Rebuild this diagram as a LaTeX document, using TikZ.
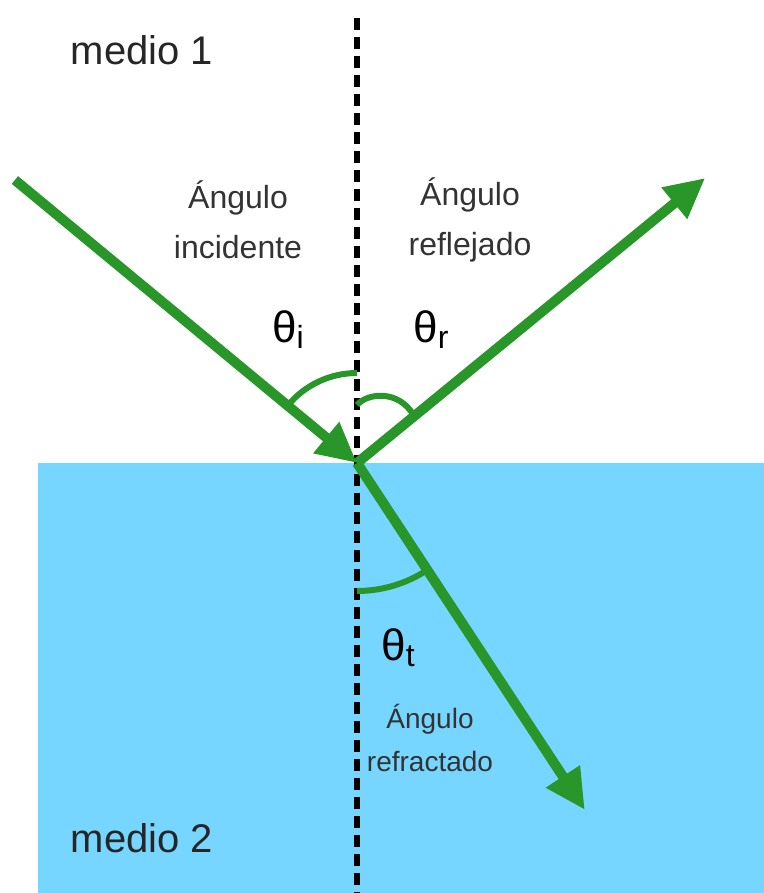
\documentclass[tikz,border=0pt]{standalone}
\usepackage{fontspec}
\setmainfont{Liberation Sans}
\usetikzlibrary{arrows.meta}
\definecolor{verderayo}{RGB}{40,150,40}
\definecolor{agua}{RGB}{118,214,255}
\newcommand{\subang}[1]{{\fontsize{16}{18}\selectfont\raisebox{-0.35ex}{#1}}}
\tikzset{
  rayo/.style={draw=verderayo, line width=5pt, -{Triangle[length=20pt,width=19pt]}},
  arco/.style={draw=verderayo, line width=3pt},
  normal/.style={line width=2.8pt, dash pattern=on 6pt off 3.5pt},
  etiqueta/.style={align=center, text=black!80, font=\fontsize{16}{25}\selectfont},
  medio/.style={text=black!85, font=\fontsize{20}{24}\selectfont},
  angulo/.style={text=black, font=\fontsize{22}{24}\selectfont},
}
\begin{document}
\begin{tikzpicture}[x=0.5pt, y=0.5pt]
  % origen en el punto de incidencia
  \useasboundingbox (-357,-430) rectangle (407,463);
  % medio 2 (agua)
  \fill[agua] (-319,-430) rectangle (407,0);
  % normal punteada
  \coordinate (N1) at (0,445);
  \coordinate (N2) at (0,-430);
  \draw[normal] (N1) -- (N2);

  % rayos: incidente 140.4, reflejado 39.3, refractado -56.7
  \coordinate (O) at (0,0);
  \coordinate (S) at (140.4:444);
  \coordinate (R) at (39.3:450);
  \coordinate (T) at (-56.7:415);
  \draw[rayo] (S) -- (O);
  \draw[rayo] (O) -- (R);
  \draw[rayo] (O) -- (T);

  % arcos de los angulos
  \draw[arco] (90:90) arc (90:140.4:90);
  \draw[arco] (0,58) .. controls (10,70) and (42,74) .. (57,47);
  \draw[arco] (-90:128) arc (-90:-56.7:128);

  % textos
  \node[medio] (m1) at (-215,413) {medio 1};
  \node[medio] (m2) at (-215,-375) {medio 2};
  \node[etiqueta] (inc) at (-119,243) {Ángulo\\incidente};
  \node[etiqueta] (ref) at (113,243) {Ángulo\\reflejado};
  \node[angulo] (ti) at (-69,133) {θ\subang{i}};
  \node[angulo] (tr) at (74,133) {θ\subang{r}};
  \node[angulo] (tt) at (41,-185) {θ\subang{t}};
  \node[etiqueta, font=\fontsize{14}{21.5}\selectfont] (rfr) at (73,-275) {Ángulo\\refractado};
\end{tikzpicture}
\end{document}
